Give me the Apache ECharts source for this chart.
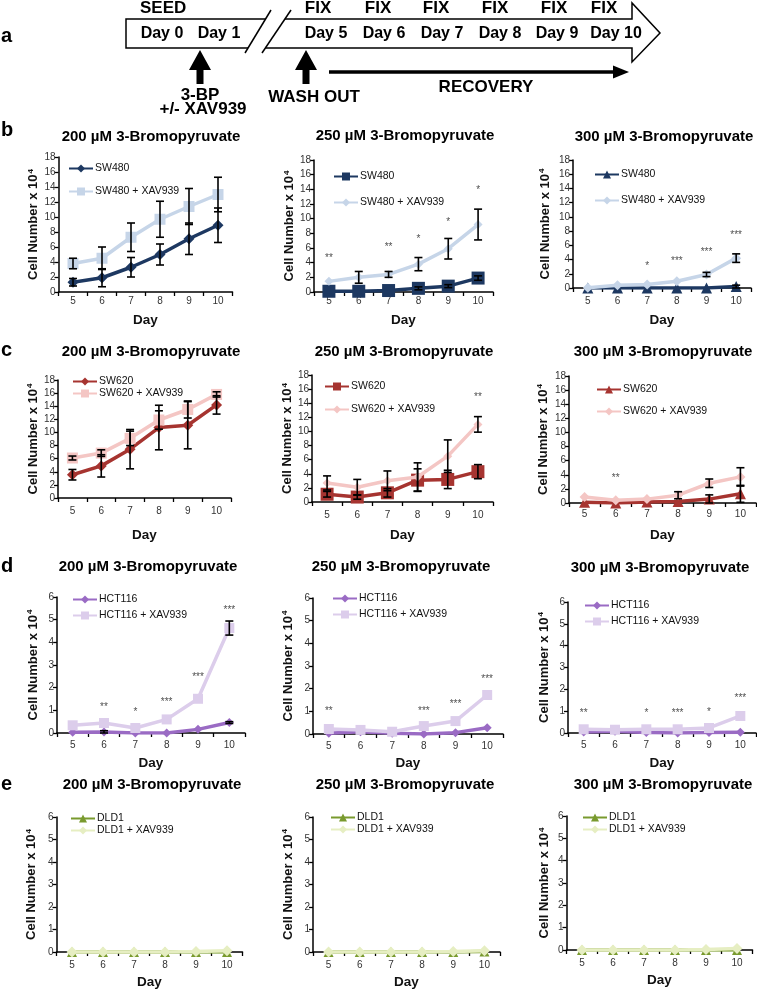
<!DOCTYPE html>
<html><head><meta charset="utf-8">
<script src="https://cdn.jsdelivr.net/npm/echarts@6.0.0/dist/echarts.min.js"></script>
<style>html,body{margin:0;padding:0;background:#fff}#c{width:757px;height:990px}</style>
</head><body><div id="c"></div>
<script>
const days = ['5','6','7','8','9','10'];

// ---- Row b : SW480 ----
const b200_base = [1.3, 1.9, 3.3, 5.0, 7.1, 8.9];
const b200_baseSd = [0.5, 1.2, 1.3, 1.4, 2.1, 2.3];
const b200_xav = [3.8, 4.5, 7.3, 9.7, 11.4, 13.0];
const b200_xavSd = [0.7, 1.5, 1.9, 2.4, 2.4, 2.3];
const b200_stars = ['', '', '', '', '', ''];
const b200_starY = [null, null, null, null, null, null];

const b250_base = [0.1, 0.1, 0.2, 0.5, 0.8, 1.9];
const b250_baseSd = [0, 0, 0, 0.2, 0.2, 0.3];
const b250_xav = [1.45, 2.0, 2.4, 3.8, 5.9, 9.2];
const b250_xavSd = [0, 0.8, 0.4, 0.9, 1.4, 2.1];
const b250_stars = ['**', '', '**', '*', '*', '*'];
const b250_starY = [4.6, null, 6.1, 7.2, 9.5, 13.9];

const b300_base = [0, 0, 0, 0, 0, 0.2];
const b300_baseSd = [0, 0, 0, 0, 0, 0.2];
const b300_xav = [0.05, 0.4, 0.5, 0.95, 1.9, 4.2];
const b300_xavSd = [0, 0, 0, 0, 0.3, 0.6];
const b300_stars = ['', '', '*', '***', '***', '***'];
const b300_starY = [null, null, 3.0, 3.8, 5.0, 7.4];

// ---- Row c : SW620 ----
const c200_base = [3.55, 4.9, 7.45, 10.75, 11.1, 14.2];
const c200_baseSd = [0.8, 1.7, 3.0, 3.4, 3.6, 1.4];
const c200_xav = [6.1, 6.85, 9.1, 11.9, 13.5, 15.8];
const c200_xavSd = [0.3, 0.5, 1.1, 1.4, 1.3, 0.4];
const c200_stars = ['', '', '', '', '', ''];
const c200_starY = [null, null, null, null, null, null];

const c250_base = [1.1, 0.7, 1.3, 3.1, 3.2, 4.3];
const c250_baseSd = [0.4, 0.3, 0.6, 1.6, 1.3, 1.0];
const c250_xav = [2.7, 2.1, 3.0, 3.55, 6.5, 11.0];
const c250_xavSd = [1.0, 1.1, 1.4, 2.0, 2.3, 1.1];
const c250_stars = ['', '', '', '', '', '**'];
const c250_starY = [null, null, null, null, null, 14.9];

const c300_base = [0.1, 0, 0.15, 0.2, 0.55, 1.3];
const c300_baseSd = [0, 0, 0, 0, 0.6, 1.2];
const c300_xav = [0.85, 0.4, 0.55, 1.1, 2.8, 3.7];
const c300_xavSd = [0, 0, 0, 0.5, 0.6, 1.3];
const c300_stars = ['', '**', '', '', '', ''];
const c300_starY = [null, 3.5, null, null, null, null];

// ---- Row d : HCT116 ----
const d200_base = [0.03, 0.04, 0, 0, 0.16, 0.46];
const d200_baseSd = [0, 0.06, 0, 0, 0, 0.04];
const d200_xav = [0.34, 0.44, 0.22, 0.6, 1.51, 4.63];
const d200_xavSd = [0, 0, 0, 0, 0, 0.31];
const d200_stars = ['', '**', '*', '***', '***', '***'];
const d200_starY = [null, 1.15, 0.93, 1.37, 2.47, 5.41];

const d250_base = [0.03, 0.1, 0.03, 0, 0.06, 0.28];
const d250_baseSd = [0, 0, 0, 0, 0, 0];
const d250_xav = [0.22, 0.18, 0.1, 0.35, 0.57, 1.72];
const d250_xavSd = [0, 0, 0, 0, 0, 0];
const d250_stars = ['**', '', '', '***', '***', '***'];
const d250_starY = [1.0, null, null, 1.0, 1.3, 2.4];

const d300_base = [0.05, 0.08, 0.02, 0, 0.02, 0.03];
const d300_baseSd = [0, 0, 0, 0, 0, 0];
const d300_xav = [0.17, 0.15, 0.17, 0.17, 0.23, 0.78];
const d300_xavSd = [0, 0, 0, 0, 0, 0];
const d300_stars = ['**', '', '*', '***', '*', '***'];
const d300_starY = [0.89, null, 0.89, 0.89, 0.96, 1.57];

// ---- Row e : DLD1 ----
const e200_base = [0, 0, 0, 0, 0, 0];
const e200_xav = [0, 0, 0, 0, 0.02, 0.06];
const e250_base = [0, 0, 0, 0, 0, 0.02];
const e250_xav = [0, 0, 0, 0, 0.02, 0.06];
const e300_base = [0, 0, 0, 0, 0, 0];
const e300_xav = [0, 0, 0, 0, 0.02, 0.07];
const zeroSd = [0, 0, 0, 0, 0, 0];
const noStars = ['', '', '', '', '', ''];
const noStarY = [null, null, null, null, null, null];

const concTitles = ['200 µM 3-Bromopyruvate', '250 µM 3-Bromopyruvate', '300 µM 3-Bromopyruvate'];

const FONT = '"Liberation Sans", Arial, Helvetica, sans-serif';
const colors = {
  SW480: ['#1d3861', '#c6d5e8'],
  SW620: ['#a63430', '#f4c6c4'],
  HCT116: ['#9a6bc4', '#dccdeb'],
  DLD1: ['#799a2e', '#e6eec2']
};

const panels = [
  {id:'b1', cell:'SW480', t:0, base:b200_base, baseSd:b200_baseSd, xav:b200_xav, xavSd:b200_xavSd, stars:b200_stars, starY:b200_starY, max:18, iv:2, sym:['diamond','rect'], ss:[11,11],
   box:[58.5,157,232.5,292], title:[151,137], yGap:18, xGap:21, xMargin:4, legend:[68,163,12]},
  {id:'b2', cell:'SW480', t:1, base:b250_base, baseSd:b250_baseSd, xav:b250_xav, xavSd:b250_xavSd, stars:b250_stars, starY:b250_starY, max:18, iv:2, sym:['rect','diamond'], ss:[13,9],
   box:[314,160,493,292], title:[405,136], yGap:17, xGap:21, xMargin:4, legend:[333,171,15]},
  {id:'b3', cell:'SW480', t:2, base:b300_base, baseSd:b300_baseSd, xav:b300_xav, xavSd:b300_xavSd, stars:b300_stars, starY:b300_starY, max:18, iv:2, sym:['triangle','diamond'], ss:[11,10],
   box:[573,160,751,288], title:[664,137], yGap:21, xGap:25, xMargin:8, legend:[594,169,15]},
  {id:'c1', cell:'SW620', t:0, base:c200_base, baseSd:c200_baseSd, xav:c200_xav, xavSd:c200_xavSd, stars:c200_stars, starY:c200_starY, max:18, iv:2, sym:['diamond','rect'], ss:[11,11],
   box:[58,380,231,498], title:[151,352], yGap:18, xGap:30, xMargin:8, legend:[72,376,1]},
  {id:'c2', cell:'SW620', t:1, base:c250_base, baseSd:c250_baseSd, xav:c250_xav, xavSd:c250_xavSd, stars:c250_stars, starY:c250_starY, max:18, iv:2, sym:['rect','diamond'], ss:[13,9],
   box:[312,375,493,502], title:[404,352], yGap:17, xGap:26, xMargin:8, legend:[324,381,12]},
  {id:'c3', cell:'SW620', t:2, base:c300_base, baseSd:c300_baseSd, xav:c300_xav, xavSd:c300_xavSd, stars:c300_stars, starY:c300_starY, max:18, iv:2, sym:['triangle','diamond'], ss:[11,10],
   box:[569,376,756,503], title:[663,352], yGap:19, xGap:25, xMargin:6, legend:[596,384,11]},
  {id:'d1', cell:'HCT116', t:0, base:d200_base, baseSd:d200_baseSd, xav:d200_xav, xavSd:d200_xavSd, stars:d200_stars, starY:d200_starY, max:6, iv:1, sym:['diamond','rect'], ss:[9,10],
   box:[57,597,245,733], title:[148,567], yGap:17, xGap:23, xMargin:7, legend:[72,594,5]},
  {id:'d2', cell:'HCT116', t:1, base:d250_base, baseSd:d250_baseSd, xav:d250_xav, xavSd:d250_xavSd, stars:d250_stars, starY:d250_starY, max:6, iv:1, sym:['diamond','rect'], ss:[9,10],
   box:[313,598,503,734], title:[401,567], yGap:18, xGap:22, xMargin:7, legend:[332,593,5]},
  {id:'d3', cell:'HCT116', t:2, base:d300_base, baseSd:d300_baseSd, xav:d300_xav, xavSd:d300_xavSd, stars:d300_stars, starY:d300_starY, max:6, iv:1, sym:['diamond','rect'], ss:[9,10],
   box:[568,602,756,733], title:[660,568], yGap:17, xGap:23, xMargin:7, legend:[584,600,5]},
  {id:'e1', cell:'DLD1', t:0, base:e200_base, baseSd:zeroSd, xav:e200_xav, xavSd:zeroSd, stars:noStars, starY:noStarY, max:6, iv:1, sym:['triangle','diamond'], ss:[10,11],
   box:[56.5,817,242.5,952], title:[152,785], yGap:18, xGap:23, xMargin:8, legend:[70,813,1]},
  {id:'e2', cell:'DLD1', t:1, base:e250_base, baseSd:zeroSd, xav:e250_xav, xavSd:zeroSd, stars:noStars, starY:noStarY, max:6, iv:1, sym:['triangle','diamond'], ss:[10,11],
   box:[313,817,500,952], title:[405,785], yGap:18, xGap:23, xMargin:8, legend:[330,812,1]},
  {id:'e3', cell:'DLD1', t:2, base:e300_base, baseSd:zeroSd, xav:e300_xav, xavSd:zeroSd, stars:noStars, starY:noStarY, max:6, iv:1, sym:['triangle','diamond'], ss:[10,11],
   box:[566.5,816,752.5,950], title:[663,785], yGap:15, xGap:23, xMargin:8, legend:[582,812,1]}
];

function errItem(params, api) {
  const x = api.value(0), m = api.value(1), s = api.value(2);
  if (!s) return null;
  const hi = api.coord([x, m + s]);
  const lo = api.coord([x, Math.max(0, m - s)]);
  const w = 4;
  const st = {stroke:'#000', lineWidth:1.6};
  return {type:'group', children:[
    {type:'line', shape:{x1:hi[0], y1:hi[1], x2:lo[0], y2:lo[1]}, style:st},
    {type:'line', shape:{x1:hi[0]-w, y1:hi[1], x2:hi[0]+w, y2:hi[1]}, style:st},
    {type:'line', shape:{x1:lo[0]-w, y1:lo[1], x2:lo[0]+w, y2:lo[1]}, style:st}
  ]};
}

const grid = [], xAxis = [], yAxis = [], series = [], legend = [], graphic = [];

panels.forEach((p, i) => {
  const c = colors[p.cell];
  const b = p.box;
  grid.push({left:b[0], top:b[1], width:b[2]-b[0], height:b[3]-b[1], containLabel:false});
  xAxis.push({type:'category', gridIndex:i, data:days, boundaryGap:true,
    axisLine:{lineStyle:{color:'#000', width:1.5}},
    axisTick:{show:true, length:4, inside:false, lineStyle:{color:'#000', width:1.3}},
    axisLabel:{fontSize:10, color:'#333', margin:p.xMargin, fontFamily:FONT},
    name:'Day', nameLocation:'middle', nameGap:p.xGap,
    nameTextStyle:{fontWeight:'bold', fontSize:13.5, color:'#111', fontFamily:FONT}});
  yAxis.push({type:'value', gridIndex:i, min:0, max:p.max, interval:p.iv,
    splitLine:{show:false},
    axisLine:{show:true, lineStyle:{color:'#000', width:1.5}},
    axisTick:{show:true, length:4, lineStyle:{color:'#000', width:1.3}},
    axisLabel:{fontSize:10, color:'#333', margin:3, fontFamily:FONT},
    name:'Cell Number x 10{s|4}', nameLocation:'middle', nameGap:p.yGap,
    nameTextStyle:{fontWeight:'bold', fontSize:13, color:'#111', fontFamily:FONT,
      rich:{s:{fontSize:8, fontWeight:'bold', color:'#111', fontFamily:FONT, verticalAlign:'top', padding:[0,0,6,1]}}}});
  const nBase = p.cell + '|' + p.id;
  const nXav = p.cell + ' + XAV939|' + p.id;
  series.push({type:'line', name:nBase, xAxisIndex:i, yAxisIndex:i, data:p.base,
    symbol:p.sym[0], symbolSize:p.ss[0], lineStyle:{width:3.5, color:c[0]}, itemStyle:{color:c[0]}, z:2});
  series.push({type:'line', name:nXav, xAxisIndex:i, yAxisIndex:i, data:p.xav,
    symbol:p.sym[1], symbolSize:p.ss[1], lineStyle:{width:3.5, color:c[1]}, itemStyle:{color:c[1]}, z:3});
  const errData = [];
  p.xav.forEach((v, k) => errData.push([k, v, p.xavSd[k]]));
  p.base.forEach((v, k) => errData.push([k, v, p.baseSd[k]]));
  series.push({type:'custom', xAxisIndex:i, yAxisIndex:i, data:errData, renderItem:errItem,
    encode:{x:0, y:1}, z:4, silent:true});
  const starData = [];
  p.stars.forEach((s, k) => { if (s) starData.push([k, p.starY[k], s]); });
  series.push({type:'scatter', xAxisIndex:i, yAxisIndex:i, data:starData, symbolSize:1,
    itemStyle:{color:'rgba(0,0,0,0)'}, z:5, silent:true,
    label:{show:true, position:'inside', formatter:(q) => q.value[2], fontSize:10, color:'#222', fontFamily:FONT}});
  legend.push({left:p.legend[0], top:p.legend[1], orient:'vertical', itemGap:p.legend[2],
    itemWidth:24, itemHeight:10, padding:0, selectedMode:false, data:[nBase, nXav],
    formatter:(n) => n.split('|')[0],
    textStyle:{fontSize:10.5, color:'#111', fontFamily:FONT, padding:[0,0,0,-3]}});
  graphic.push({type:'text', x:p.title[0], y:p.title[1], silent:true,
    style:{text:concTitles[p.t], fill:'#000', font:'bold 15px ' + FONT,
      align:'center', verticalAlign:'middle', textAlign:'center', textVerticalAlign:'middle'}});
});

// panel letters
const letters = [['a', 36], ['b', 130], ['c', 350], ['d', 566], ['e', 784]];
letters.forEach(l => graphic.push({type:'text', x:1, y:l[1], silent:true,
  style:{text:l[0], fill:'#000', font:'bold 20px ' + FONT, align:'left', verticalAlign:'middle', textAlign:'left', textVerticalAlign:'middle'}}));

// ---- Panel a: timeline ----
const tlText = (txt, x, y, size, align) => graphic.push({type:'text', x:x, y:y, silent:true,
  style:{text:txt, fill:'#000', font:'bold ' + size + 'px ' + FONT,
    align:align || 'center', verticalAlign:'middle', textAlign:align || 'center', textVerticalAlign:'middle'}});
const lineSt = {stroke:'#000', lineWidth:1.5, fill:null};
graphic.push({type:'polyline', silent:true, shape:{points:[[265.6,19],[126,19],[126,48],[248,48]]}, style:lineSt});
graphic.push({type:'polyline', silent:true, shape:{points:[[285,19],[632,19],[632,3],[660,33],[632,62],[632,48],[265.4,48]]}, style:lineSt});
graphic.push({type:'line', silent:true, shape:{x1:245, y1:53, x2:271, y2:10}, style:lineSt});
graphic.push({type:'line', silent:true, shape:{x1:262, y1:53, x2:291, y2:10}, style:lineSt});
const timelineDays = ['Day 0','Day 1','Day 5','Day 6','Day 7','Day 8','Day 9','Day 10'];
const timelineDayX = [162, 219, 326, 384, 442, 500, 557, 616];
timelineDays.forEach((d, k) => tlText(d, timelineDayX[k], 34, 16));
const fixX = [318, 378, 436, 495, 554, 604];
fixX.forEach(x => tlText('FIX', x, 8, 17));
tlText('SEED', 140, 8, 17, 'left');
[200, 306].forEach(x => graphic.push({type:'polygon', silent:true,
  shape:{points:[[x,50],[x+11,70],[x+3.5,70],[x+3.5,84],[x-3.5,84],[x-3.5,70],[x-11,70]]}, style:{fill:'#000'}}));
graphic.push({type:'line', silent:true, shape:{x1:329, y1:72, x2:616, y2:72}, style:{stroke:'#000', lineWidth:3.5}});
graphic.push({type:'polygon', silent:true, shape:{points:[[629,72],[613,65.5],[613,78.5]]}, style:{fill:'#000'}});
tlText('3-BP', 200, 95, 17);
tlText('+/- XAV939', 203, 109, 17);
tlText('WASH OUT', 314, 97, 17);
tlText('RECOVERY', 486, 87, 17);

const chart = echarts.init(document.getElementById('c'), null, {renderer:'canvas'});
chart.setOption({animation:false, backgroundColor:'#fff', grid, xAxis, yAxis, series, legend, graphic,
  textStyle:{fontFamily:FONT}});
</script></body></html>
